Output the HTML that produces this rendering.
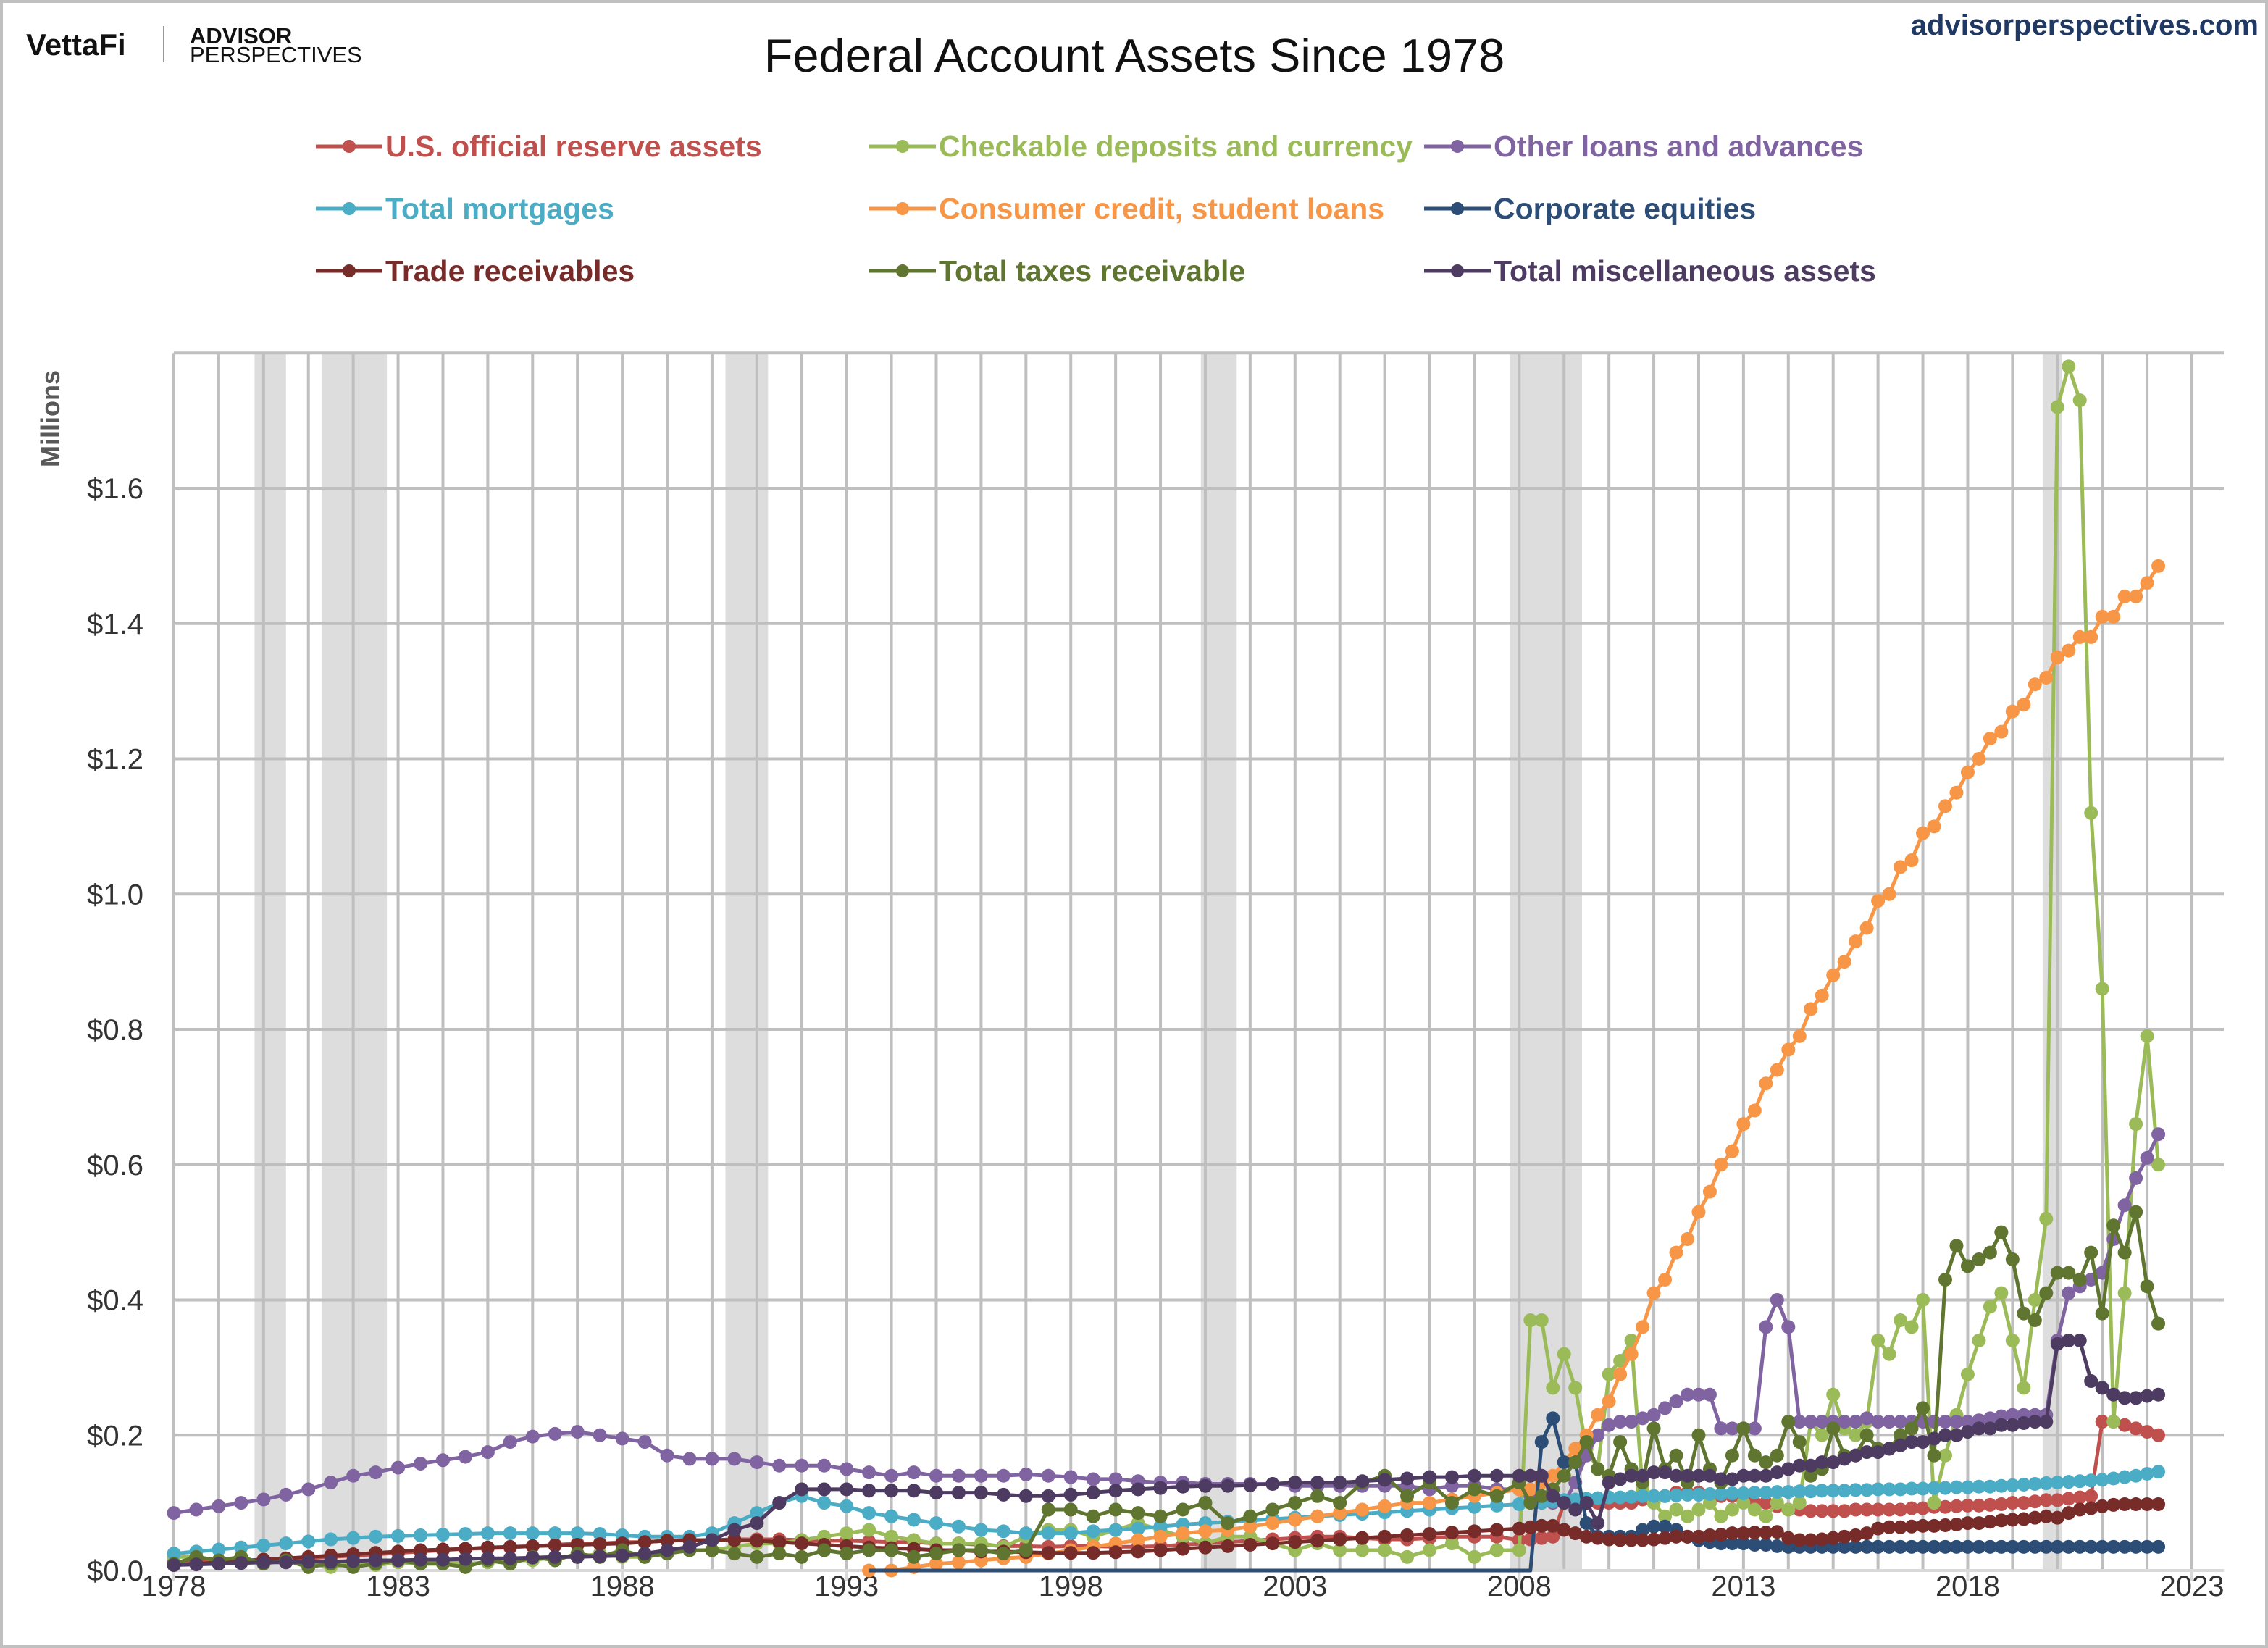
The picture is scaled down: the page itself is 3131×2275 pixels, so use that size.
<!DOCTYPE html>
<html><head><meta charset="utf-8"><style>
html,body{margin:0;padding:0;background:#fff}
svg{display:block}
</style></head><body>
<svg id="chart" width="3131" height="2275" viewBox="0 0 3131 2275" xmlns="http://www.w3.org/2000/svg" font-family="'Liberation Sans', sans-serif">
<rect x="2" y="2" width="3127" height="2271" fill="#fff" stroke="#c0c0c0" stroke-width="4"/>
<g>
<text x="36" y="76" font-size="42" font-weight="bold" fill="#111">VettaFi</text>
<line x1="226" y1="36" x2="226" y2="86" stroke="#999" stroke-width="2"/>
<text x="262" y="60" font-size="31" font-weight="bold" fill="#111">ADVISOR</text>
<text x="262" y="86" font-size="31" fill="#111">PERSPECTIVES</text>
</g>
<text x="3118" y="48" text-anchor="end" font-size="40" font-weight="bold" fill="#1F3864">advisorperspectives.com</text>
<text x="1566" y="99" text-anchor="middle" font-size="65" fill="#111">Federal Account Assets Since 1978</text>
<text transform="translate(82,578) rotate(-90)" text-anchor="middle" font-size="36" font-weight="bold" fill="#595959">Millions</text>
<g id="recessions"></g>
<g id="grid"></g>
<g id="yticks"></g>
<g id="xticks"></g>
<g id="series"></g>
<g id="legend"></g>
</svg>
<script>
const colors=["#C0504D","#9BBB59","#8064A2","#4BACC6","#F79646","#2C4D75","#772C2A","#5F7530","#4D3B62"];
const seriesNames=["U.S. official reserve assets","Checkable deposits and currency","Other loans and advances","Total mortgages","Consumer credit, student loans","Corporate equities","Trade receivables","Total taxes receivable","Total miscellaneous assets"];
const yTickLabels=["$0.0","$0.2","$0.4","$0.6","$0.8","$1.0","$1.2","$1.4","$1.6"];
const yTickValues=[0,0.2,0.4,0.6,0.8,1.0,1.2,1.4,1.6];
const xTickYears=[1978,1983,1988,1993,1998,2003,2008,2013,2018,2023];
const recessionStarts=[1979.8,1981.3,1990.3,2000.9,2007.8,2019.67];
const recessionEnds=[1980.5,1982.75,1991.25,2001.7,2009.4,2020.1];
// dates: semi-annual 1978.0-2007.5 then quarterly 2008.0-2022.25
const dates=[];
for(let i=0;i<60;i++)dates.push(1978+i*0.5);
for(let i=0;i<58;i++)dates.push(2008+i*0.25);
const N=null;
const reserveAssets=[0.012,0.013,0.014,0.015,0.016,0.017,0.018,0.02,0.022,0.024,0.026,0.028,0.03,0.032,0.033,0.034,
0.036,0.038,0.04,0.04,0.042,0.042,0.044,0.045,0.045,0.046,0.046,0.046,0.045,0.044,0.044,0.043,
0.042,0.042,0.04,0.04,0.038,0.036,0.036,0.035,0.036,0.036,0.035,0.035,0.036,0.038,0.04,0.042,
0.044,0.046,0.048,0.05,0.05,0.048,0.046,0.046,0.048,0.05,0.05,0.05,
0.045,0.046,0.048,0.05, 0.1,0.1,0.1,0.1, 0.1,0.1,0.1,0.105, 0.11,0.11,0.115,0.115, 0.115,0.112,0.11,0.11, 0.105,0.1,0.1,0.095, 0.09,0.09,0.088,0.088, 0.088,0.088,0.09,0.09, 0.09,0.09,0.09,0.092, 0.092,0.094,0.094,0.095, 0.096,0.096,0.097,0.098, 0.1,0.1,0.102,0.104, 0.104,0.106,0.108,0.11, 0.22,0.22,0.215,0.21, 0.205,0.2];
const checkable=[0.02,0.02,0.015,0.02,0.01,0.015,0.01,0.005,0.01,0.008,0.012,0.01,0.015,0.01,0.012,0.015,
0.015,0.02,0.02,0.025,0.02,0.02,0.025,0.03,0.03,0.035,0.04,0.04,0.045,0.05,0.055,0.06,
0.05,0.045,0.04,0.04,0.04,0.035,0.05,0.06,0.06,0.05,0.06,0.07,0.06,0.05,0.04,0.05,
0.05,0.04,0.03,0.04,0.03,0.03,0.03,0.02,0.03,0.04,0.02,0.03,
0.03,0.37,0.37,0.27, 0.32,0.27,0.18,0.15, 0.29,0.31,0.34,0.12, 0.1,0.08,0.09,0.08, 0.09,0.1,0.08,0.09, 0.1,0.09,0.08,0.1, 0.09,0.1,0.22,0.2, 0.26,0.21,0.2,0.22, 0.34,0.32,0.37,0.36, 0.4,0.1,0.17,0.23, 0.29,0.34,0.39,0.41, 0.34,0.27,0.4,0.52, 1.72,1.78,1.73,1.12, 0.86,0.22,0.41,0.66, 0.79,0.6];
const otherLoans=[0.085,0.09,0.095,0.1,0.105,0.112,0.12,0.13,0.14,0.145,0.152,0.158,0.163,0.168,0.175,0.19,
0.198,0.202,0.205,0.2,0.195,0.19,0.17,0.165,0.165,0.165,0.16,0.155,0.155,0.155,0.15,0.145,
0.14,0.145,0.14,0.14,0.14,0.14,0.142,0.14,0.138,0.135,0.135,0.132,0.13,0.13,0.128,0.128,
0.128,0.128,0.125,0.125,0.125,0.125,0.125,0.125,0.12,0.125,0.125,0.12,
0.12,0.11,0.1,0.1, 0.1,0.13,0.17,0.2, 0.215,0.22,0.22,0.225, 0.23,0.24,0.25,0.26, 0.26,0.26,0.21,0.21, 0.21,0.21,0.36,0.4, 0.36,0.22,0.22,0.22, 0.22,0.22,0.22,0.225, 0.22,0.22,0.22,0.22, 0.22,0.22,0.22,0.22, 0.22,0.222,0.225,0.228, 0.23,0.23,0.23,0.23, 0.34,0.41,0.42,0.43, 0.44,0.49,0.54,0.58, 0.61,0.645];
const mortgages=[0.025,0.028,0.031,0.034,0.037,0.04,0.043,0.046,0.048,0.05,0.051,0.052,0.053,0.054,0.055,0.055,
0.055,0.055,0.055,0.054,0.052,0.05,0.05,0.05,0.055,0.07,0.085,0.1,0.11,0.1,0.095,0.085,
0.08,0.075,0.07,0.065,0.06,0.058,0.055,0.055,0.055,0.058,0.06,0.062,0.065,0.068,0.07,0.072,
0.074,0.076,0.078,0.08,0.082,0.084,0.086,0.088,0.09,0.092,0.094,0.096,
0.098,0.1,0.1,0.102, 0.104,0.105,0.106,0.107, 0.108,0.108,0.109,0.11, 0.11,0.11,0.111,0.112, 0.112,0.113,0.113,0.114, 0.114,0.115,0.115,0.116, 0.116,0.117,0.117,0.118, 0.118,0.118,0.119,0.119, 0.12,0.12,0.12,0.121, 0.121,0.122,0.122,0.123, 0.123,0.124,0.124,0.125, 0.126,0.127,0.128,0.129, 0.13,0.131,0.132,0.133, 0.134,0.136,0.138,0.14, 0.143,0.146];
const studentLoans=[N,N,N,N,N,N,N,N,N,N,N,N,N,N,N,N,
N,N,N,N,N,N,N,N,N,N,N,N,N,N,N,0.0,
0.0,0.005,0.01,0.012,0.015,0.018,0.02,0.025,0.03,0.035,0.04,0.045,0.05,0.055,0.058,0.06,
0.065,0.07,0.075,0.08,0.085,0.09,0.095,0.1,0.1,0.105,0.11,0.115,
0.12,0.12,0.13,0.14, 0.16,0.18,0.2,0.23, 0.25,0.29,0.32,0.36, 0.41,0.43,0.47,0.49, 0.53,0.56,0.6,0.62, 0.66,0.68,0.72,0.74, 0.77,0.79,0.83,0.85, 0.88,0.9,0.93,0.95, 0.99,1.0,1.04,1.05, 1.09,1.1,1.13,1.15, 1.18,1.2,1.23,1.24, 1.27,1.28,1.31,1.32, 1.35,1.36,1.38,1.38, 1.41,1.41,1.44,1.44, 1.46,1.485];
const equities=[N,N,N,N,N,N,N,N,N,N,N,N,N,N,N,N,
N,N,N,N,N,N,N,N,N,N,N,N,N,N,N,0,
0,0,0,0,0,0,0,0,0,0,0,0,0,0,0,0,
0,0,0,0,0,0,0,0,0,0,0,0,
0,0,0.19,0.225, 0.16,0.16,0.07,0.05, 0.05,0.05,0.05,0.06, 0.065,0.065,0.06,0.05, 0.045,0.042,0.04,0.04, 0.04,0.038,0.038,0.036,
0.035,0.035,0.035,0.035, 0.035,0.035,0.035,0.035, 0.035,0.035,0.035,0.035, 0.035,0.035,0.035,0.035, 0.035,0.035,0.035,0.035, 0.035,0.035,0.035,0.035, 0.035,0.035,0.035,0.035, 0.035,0.035,0.035,0.035, 0.035,0.035];
const tradeReceivables=[0.008,0.01,0.012,0.014,0.016,0.018,0.02,0.022,0.024,0.026,0.028,0.03,0.031,0.032,0.034,0.035,
0.036,0.037,0.038,0.039,0.04,0.042,0.044,0.045,0.045,0.045,0.044,0.042,0.04,0.038,0.036,0.034,
0.033,0.032,0.03,0.03,0.028,0.028,0.027,0.026,0.026,0.026,0.027,0.028,0.03,0.032,0.034,0.036,
0.038,0.04,0.042,0.044,0.046,0.048,0.05,0.052,0.054,0.056,0.058,0.06,
0.062,0.064,0.066,0.066, 0.06,0.055,0.05,0.048, 0.046,0.045,0.045,0.045, 0.046,0.048,0.05,0.05, 0.05,0.052,0.053,0.055, 0.055,0.056,0.056,0.057, 0.048,0.045,0.045,0.046, 0.048,0.05,0.052,0.055, 0.062,0.064,0.064,0.065, 0.066,0.066,0.067,0.068, 0.07,0.07,0.072,0.074, 0.075,0.076,0.078,0.08, 0.078,0.085,0.09,0.092, 0.095,0.097,0.098,0.098, 0.098,0.098];
const taxesReceivable=[0.01,0.02,0.015,0.02,0.01,0.015,0.005,0.01,0.005,0.01,0.015,0.01,0.01,0.005,0.015,0.01,
0.02,0.015,0.025,0.02,0.03,0.02,0.025,0.03,0.03,0.025,0.02,0.025,0.02,0.03,0.025,0.03,
0.03,0.02,0.025,0.03,0.03,0.025,0.03,0.09,0.09,0.08,0.09,0.085,0.08,0.09,0.1,0.07,
0.08,0.09,0.1,0.11,0.1,0.13,0.14,0.11,0.13,0.1,0.12,0.11,
0.13,0.1,0.11,0.12, 0.14,0.16,0.19,0.15, 0.14,0.19,0.15,0.13, 0.21,0.15,0.17,0.13, 0.2,0.15,0.13,0.17, 0.21,0.17,0.16,0.17, 0.22,0.19,0.14,0.15, 0.21,0.17,0.17,0.2, 0.18,0.18,0.2,0.21, 0.24,0.17,0.43,0.48, 0.45,0.46,0.47,0.5, 0.46,0.38,0.37,0.41, 0.44,0.44,0.43,0.47, 0.38,0.51,0.47,0.53, 0.42,0.365];
const miscAssets=[0.008,0.009,0.01,0.011,0.012,0.012,0.013,0.013,0.014,0.015,0.015,0.016,0.016,0.017,0.018,0.018,
0.019,0.02,0.02,0.021,0.022,0.025,0.03,0.035,0.045,0.06,0.07,0.1,0.12,0.12,0.12,0.118,
0.118,0.118,0.115,0.115,0.115,0.112,0.11,0.11,0.112,0.115,0.118,0.12,0.122,0.124,0.125,0.125,
0.126,0.128,0.13,0.13,0.13,0.132,0.134,0.136,0.138,0.138,0.14,0.14,
0.14,0.14,0.14,0.11, 0.1,0.09,0.1,0.07, 0.13,0.135,0.14,0.14, 0.145,0.145,0.14,0.14, 0.14,0.14,0.135,0.135, 0.14,0.14,0.14,0.145, 0.15,0.155,0.155,0.16, 0.16,0.165,0.17,0.175, 0.175,0.18,0.185,0.19, 0.19,0.195,0.2,0.2, 0.205,0.21,0.21,0.215, 0.215,0.218,0.22,0.22, 0.335,0.34,0.34,0.28, 0.27,0.26,0.255,0.255, 0.258,0.26];
const seriesValues=[reserveAssets,checkable,otherLoans,mortgages,studentLoans,equities,tradeReceivables,taxesReceivable,miscAssets];
const seriesKeys=["reserve-assets","checkable-deposits","other-loans","total-mortgages","student-loans","corporate-equities","trade-receivables","taxes-receivable","misc-assets"];

const X0=240,X1=3026,Y0=2168,YPER=933.75;
const xS=y=>X0+(y-1978)*(X1-X0)/45;
const yS=v=>Y0-v*YPER;
const NS="http://www.w3.org/2000/svg";
function mk(tag,attrs,parent){const e=document.createElementNS(NS,tag);for(const k in attrs)e.setAttribute(k,attrs[k]);parent.appendChild(e);return e;}

const rec=document.getElementById('recessions');
recessionStarts.forEach((s,i)=>{
 const r=mk('rect',{x:xS(s),y:yS(1.8),width:xS(recessionEnds[i])-xS(s),height:yS(0)-yS(1.8),fill:'#DDDDDD'},rec);
 
 
});
const grid=document.getElementById('grid');
for(let yr=1978;yr<=2023;yr++){
 const l=mk('line',{x1:xS(yr),x2:xS(yr),y1:yS(1.8),y2:yS(0),stroke:'#BFBFBF','stroke-width':4},grid);
 
 
}
for(let k=1;k<=9;k++){
 const v=k*0.2;
 const l=mk('line',{x1:X0,x2:3070,y1:yS(v),y2:yS(v),stroke:'#BFBFBF','stroke-width':4},grid);
 
 
}
const ax=mk('line',{x1:X0,x2:3070,y1:yS(0),y2:yS(0),stroke:'#D9D9D9','stroke-width':4},grid);


const yt=document.getElementById('yticks');
yTickValues.forEach((v,i)=>{
 const t=mk('text',{x:198,y:yS(v)+14,'text-anchor':'end','font-size':40,fill:'#333'},yt);
 t.textContent=yTickLabels[i];
 
 
});
const xt=document.getElementById('xticks');
xTickYears.forEach(yr=>{
 const tk=mk('line',{x1:xS(yr),x2:xS(yr),y1:yS(0),y2:yS(0)+14,stroke:'#D9D9D9','stroke-width':4},xt);
 
 
 const t=mk('text',{x:xS(yr),y:2203,'text-anchor':'middle','font-size':40,fill:'#333'},xt);
 t.textContent=String(yr);
 
 
});
const sg=document.getElementById('series');
seriesValues.forEach((vals,si)=>{
 const g=mk('g',{},sg);
 
 
 let d='',pen=false;
 vals.forEach((v,i)=>{ if(v===null){pen=false;return;} d+=(pen?'L':'M')+xS(dates[i]).toFixed(1)+','+yS(v).toFixed(1); pen=true;});
 const p=mk('path',{d:d,fill:'none',stroke:colors[si],'stroke-width':5,'stroke-linejoin':'round'},g);
 
 
 vals.forEach((v,i)=>{
  if(v===null)return;
  if(si===5 && v===0)return;
  const c=mk('circle',{cx:xS(dates[i]),cy:yS(v),r:9.5,fill:colors[si]},g);
  
  
 });
});
const lg=document.getElementById('legend');
const colX=[436,1200,1966],rowY=[202,288,374];
seriesNames.forEach((nm,i)=>{
 const cx=colX[i%3],cy=rowY[Math.floor(i/3)];
 const g=mk('g',{},lg);
 
 
 mk('line',{x1:cx,x2:cx+92,y1:cy,y2:cy,stroke:colors[i],'stroke-width':5},g);
 mk('circle',{cx:cx+46,cy:cy,r:9,fill:colors[i]},g);
 const t=mk('text',{x:cx+96,y:cy+14,'font-size':41,'font-weight':'bold',fill:colors[i]},g);
 t.textContent=nm;
 
 
});
</script>
</body></html>
